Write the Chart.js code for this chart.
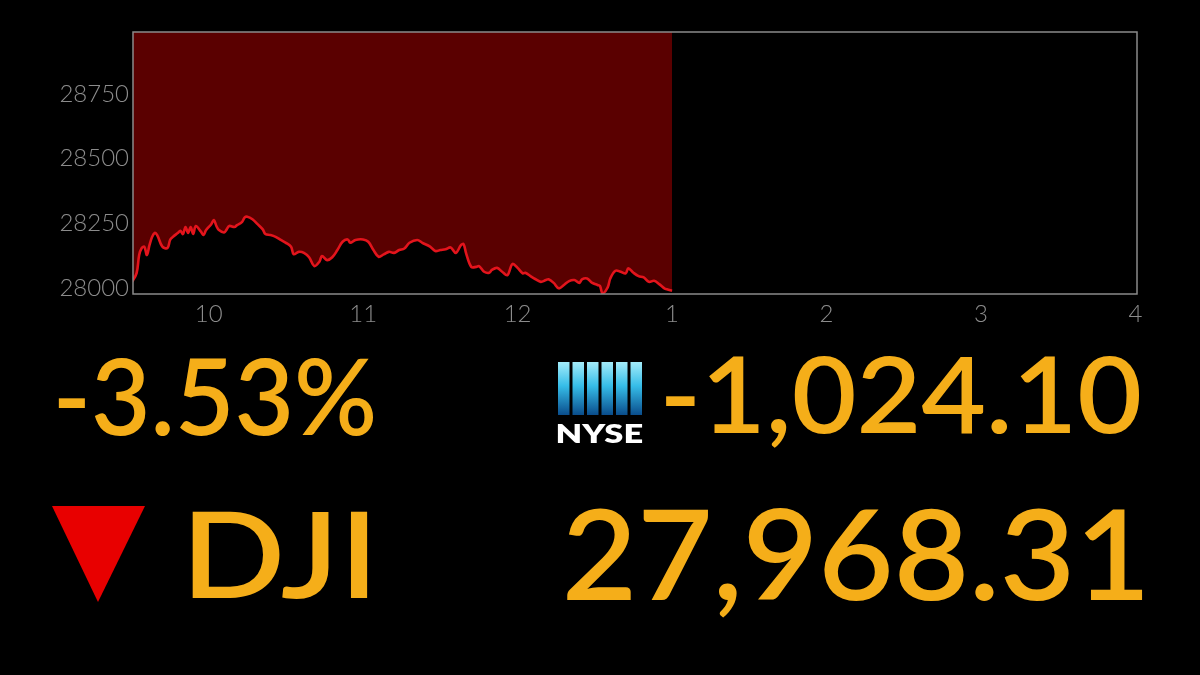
<!DOCTYPE html>
<html>
<head>
<meta charset="utf-8">
<script src="https://cdn.jsdelivr.net/npm/chart.js@4/dist/chart.umd.min.js"></script>
<style>
  html,body{margin:0;padding:0;background:#000;width:1200px;height:675px;overflow:hidden;}
  #wrap{position:absolute;left:0;top:0;width:1200px;height:340px;}
  #c{display:block;width:1200px;height:340px;}
  #ov{position:absolute;left:0;top:0;}
</style>
</head>
<body>
<div id="wrap"><canvas id="c" width="1200" height="340"></canvas></div>
<svg id="ov" width="1200" height="675" xmlns="http://www.w3.org/2000/svg">
  <defs>
    <linearGradient id="nyseG" x1="0" y1="0" x2="0" y2="1">
      <stop offset="0" stop-color="#a4ecfa"/>
      <stop offset="0.45" stop-color="#36bde8"/>
      <stop offset="1" stop-color="#0a4d8c"/>
    </linearGradient>
  </defs>
  <g id="bars"></g>
  <polygon points="52,506 145,506 98,602" fill="#e80000"/>
  <text id="tPct" fill="#f5ae19">-3.53%</text>
  <text id="tChg" fill="#f5ae19">-1,024.10</text>
  <text id="tSym" fill="#f5ae19">DJI</text>
  <text id="tVal" fill="#f5ae19">27,968.31</text>
  <text id="tNyse" fill="#ffffff">NYSE</text>
</svg>
<script>
// ---- data (minutes after 9:30 open, DJI level) ----
const minutesAfterOpen = [0,2,3,4,5,6,7,8,9,10,12,14,15,16,18,19,20,21,22,23,24,25,27,28,29,31,32,33,34,36,37,38,40,41,43,44,45,47,49,51,52,54,56,58,60,62,63,65,67,69,71,73,74,76,78,80,82,84,85,87,90,92,94,96,98,100,102,104,106,108,111,113,116,118,120,122,124,126,128,129,130,132,134,135,137,139,140,142,144,146,148,150,152,153,155,157,159,161,162,164,166,168,170,172,174,175,177,179,181,182,183,185,186,188,190,192,193,195,197,199,201,203,205,207,208,210];
const djiValues = [28020,28058,28128,28155,28160,28128,28166,28197,28213,28205,28160,28155,28186,28197,28213,28221,28209,28236,28213,28236,28209,28240,28218,28205,28224,28247,28263,28240,28224,28215,28227,28240,28236,28243,28256,28273,28276,28266,28247,28227,28209,28205,28198,28186,28175,28160,28131,28140,28136,28119,28085,28102,28124,28108,28119,28147,28179,28188,28175,28186,28188,28179,28147,28121,28130,28140,28136,28147,28153,28175,28186,28175,28160,28143,28147,28150,28157,28136,28166,28170,28134,28082,28082,28085,28063,28059,28070,28078,28063,28050,28093,28078,28057,28059,28046,28034,28024,28031,28034,28020,27999,28012,28027,28031,28020,28034,28037,28020,28012,28008,27980,28003,28037,28067,28063,28057,28076,28059,28046,28041,28024,28028,28015,27999,27995,27990];
const yTickValues = [28000, 28250, 28500, 28750];
const xTickHours = [10, 11, 12, 13, 14, 15, 16];
const xTickLabels = ["10", "11", "12", "1", "2", "3", "4"];
const openHour = 9.5;

const points = minutesAfterOpen.map((m, i) => ({ x: openHour + m / 60, y: djiValues[i] }));

const frame = {
  id: 'frame',
  afterDatasetsDraw(chart) {
    const a = chart.chartArea, ctx = chart.ctx;
    ctx.save();
    ctx.strokeStyle = '#8a8a8a';
    ctx.lineWidth = 1.5;
    ctx.strokeRect(a.left, a.top, a.right - a.left, a.bottom - a.top);
    ctx.restore();
  }
};

const tickFont = { family: 'Lato, "Open Sans", sans-serif', size: 24, weight: '300' };

new Chart(document.getElementById('c'), {
  type: 'line',
  data: {
    datasets: [{
      data: points,
      borderColor: '#e3141c',
      borderWidth: 2.6,
      backgroundColor: '#5a0000',
      fill: 'end',
      pointRadius: 0,
      tension: 0.35
    }]
  },
  options: {
    responsive: false,
    maintainAspectRatio: false,
    animation: false,
    devicePixelRatio: 1,
    layout: { padding: { top: 32, left: 0, right: 63, bottom: 0 } },
    plugins: { legend: { display: false }, tooltip: { enabled: false } },
    scales: {
      x: {
        type: 'linear',
        min: 9.51, max: 16.01,
        grid: { display: false, drawTicks: false },
        border: { display: false },
        afterFit(s) { s.height = 46; },
        afterBuildTicks(s) { s.ticks = xTickHours.map(v => ({ value: v })); },
        ticks: {
          color: '#8c8c8c', font: tickFont, padding: 6, maxRotation: 0, autoSkip: false,
          callback: (v) => { const i = xTickHours.indexOf(v); return i >= 0 ? xTickLabels[i] : ''; }
        }
      },
      y: {
        min: 27977, max: 28990,
        grid: { display: false, drawTicks: false },
        border: { display: false },
        afterFit(s) { s.width = 133; },
        afterBuildTicks(s) { s.ticks = yTickValues.map(v => ({ value: v })); },
        ticks: { color: '#8c8c8c', font: tickFont, padding: 4, callback: v => String(v) }
      }
    }
  },
  plugins: [frame]
});
</script>
<script>
// ---- overlay text fitting ----
const mc = document.createElement('canvas').getContext('2d');
function place(id, left, right, top, base, weight, family) {
  const el = document.getElementById(id);
  const text = el.textContent;
  mc.font = `${weight} 100px ${family}`;
  const m = mc.measureText(text);
  const asc = m.actualBoundingBoxAscent;
  const inkW = m.actualBoundingBoxLeft + m.actualBoundingBoxRight;
  const fs = (base - top) / asc * 100;
  const sx = (right - left) / (inkW * fs / 100);
  const x0 = left + m.actualBoundingBoxLeft * fs / 100 * sx;
  el.setAttribute('x', 0);
  el.setAttribute('y', 0);
  el.setAttribute('font-size', fs.toFixed(2));
  el.setAttribute('font-family', family);
  el.setAttribute('font-weight', weight);
  el.setAttribute('transform', `translate(${x0.toFixed(2)},${base}) scale(${sx.toFixed(4)},1)`);
}
const bigFam = 'Lato';
place('tPct', 58, 373, 357, 435, '600', bigFam);
place('tChg', 665, 1140, 355, 433, '600', bigFam);
place('tSym', 192, 368, 511, 598, '600', bigFam);
place('tVal', 567, 1143, 508, 600, '600', bigFam);
place('tNyse', 558, 642, 423, 443, '800', 'Lato');

// NYSE bars
const barXs = [558, 572.5, 587, 601.5, 616, 630.5];
const g = document.getElementById('bars');
barXs.forEach(x => {
  const r = document.createElementNS('http://www.w3.org/2000/svg', 'rect');
  r.setAttribute('x', x); r.setAttribute('y', 362);
  r.setAttribute('width', 11.5); r.setAttribute('height', 53);
  r.setAttribute('fill', 'url(#nyseG)');
  g.appendChild(r);
});
</script>
</body>
</html>
